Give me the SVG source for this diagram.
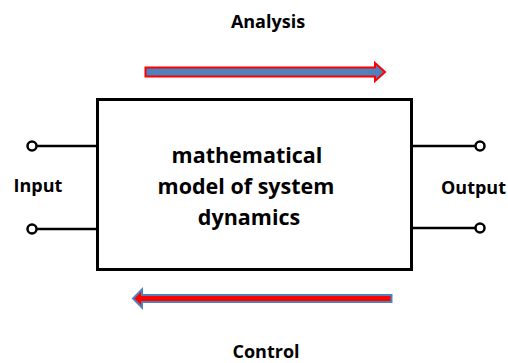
<svg xmlns="http://www.w3.org/2000/svg" width="508" height="363" viewBox="0 0 508 363">
<style>
text{font-family:"Open Sans","Liberation Sans",sans-serif;font-weight:bold;fill:#000;text-anchor:middle}
.lbl{font-size:18px}
.main{font-size:21.5px}
.wire{stroke:#000;stroke-width:2.5;fill:none}
.term{stroke:#000;stroke-width:2.5;fill:#fff}
</style>
<rect width="508" height="363" fill="#fff"/>
<g id="connectors">
<line class="wire" x1="36" y1="146" x2="97" y2="146"/>
<line class="wire" x1="36" y1="229" x2="97" y2="229"/>
<line class="wire" x1="412" y1="146" x2="476" y2="146"/>
<line class="wire" x1="412" y1="228" x2="476" y2="228"/>
</g>
<g id="model">
<rect x="97.5" y="99.5" width="314" height="170" fill="#fff" stroke="#000" stroke-width="3"/>
<text class="main" x="247" y="163">mathematical</text>
<text class="main" x="246" y="194">model of system</text>
<text class="main" x="249" y="225">dynamics</text>
</g>
<g id="input">
<circle class="term" cx="32" cy="146" r="4.5"/>
<circle class="term" cx="32" cy="229" r="4.5"/>
<text class="lbl" x="38" y="192">Input</text>
</g>
<g id="output">
<circle class="term" cx="480" cy="146" r="4.5"/>
<circle class="term" cx="480" cy="228" r="4.5"/>
<text class="lbl" x="441" y="194" style="text-anchor:start">Output</text>
</g>
<g id="analysis">
<path d="M145.5,67.5 H375 V63 L385,72 L375,81 V76.5 H145.5 Z" fill="#4f81bd" stroke="#ff0000" stroke-width="2"/>
<text class="lbl" x="268" y="28">Analysis</text>
</g>
<g id="control">
<path d="M391.5,295 H142 V289.5 L133,298.5 L142,307.5 V302 H391.5 Z" fill="#ff0000" stroke="#4f81bd" stroke-width="2"/>
<text class="lbl" x="266" y="358">Control</text>
</g>
</svg>
